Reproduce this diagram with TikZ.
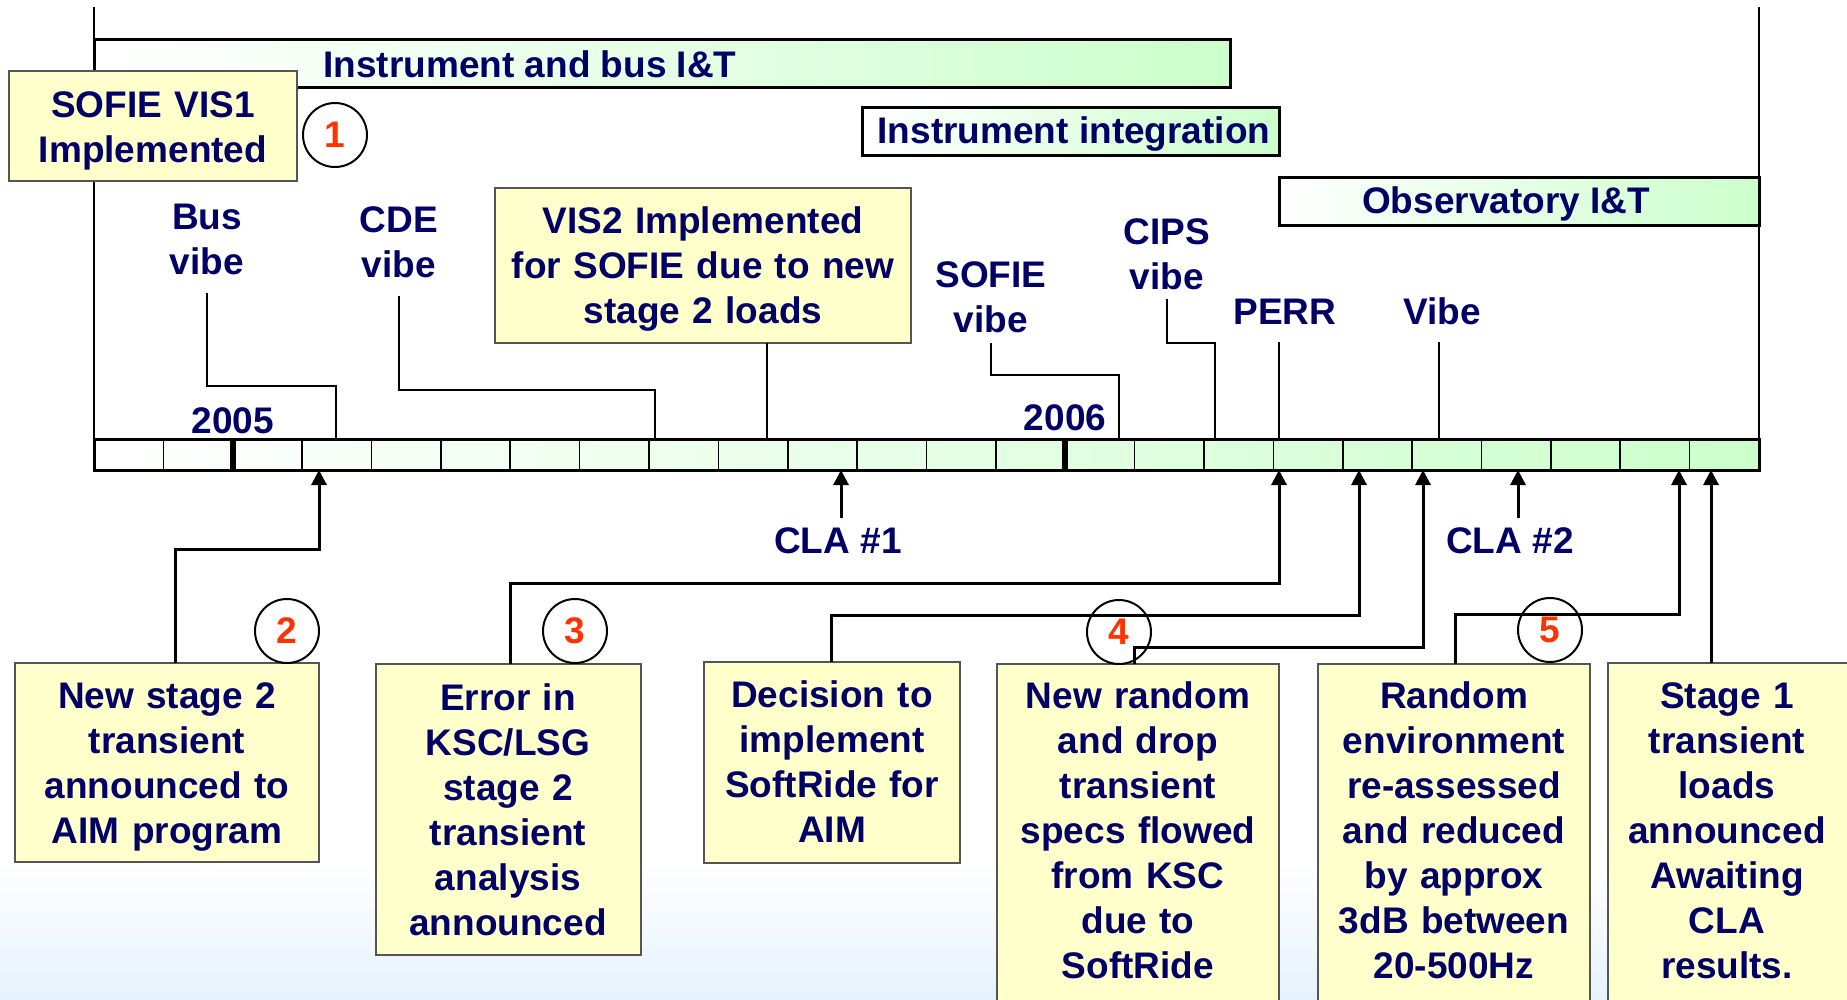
\documentclass[tikz,border=0pt]{standalone}
\usepackage{fontspec}
\setmainfont{Liberation Sans}
\usetikzlibrary{arrows.meta}
\definecolor{navy}{RGB}{0,0,102}
\definecolor{lyellow}{RGB}{255,255,204}
\definecolor{lgreen}{RGB}{204,255,204}
\definecolor{numred}{RGB}{255,51,0}
\definecolor{boxgray}{RGB}{85,85,85}
\definecolor{lblue}{RGB}{230,242,252}
\tikzset{
  txt/.style={font=\fontsize{37}{45}\selectfont\bfseries, text=navy, inner sep=0pt, align=center},
  mtxt/.style={txt, text width=#1, anchor=base},
  period/.style={draw=black, line width=3pt, left color=white, right color=lgreen, anchor=north west, inner sep=0pt, outer sep=0pt},
  ybox/.style={draw=boxgray, line width=2pt, fill=lyellow, anchor=north west, inner sep=0pt, outer sep=0pt},
  numc/.style={circle, draw=black, line width=2pt, minimum size=64pt, inner sep=0pt, font=\fontsize{37}{45}\selectfont\bfseries, text=numred},
  conn/.style={line width=2pt},
  arr/.style={line width=3pt, -{Triangle[length=15pt,width=15pt]}}
}
\begin{document}
\begin{tikzpicture}[x=1pt,y=-1pt]
\useasboundingbox (0,0) rectangle (1847,999);
% background gradient at the bottom
\fill[top color=white, bottom color=lblue] (0,860) rectangle (1847,999);

% timeline bar
\node[period, minimum width=1665pt, minimum height=31pt] (bar) at (94,439) {};
\foreach \k in {1,...,23} {
  \draw[line width=1.7pt] ({94+\k*69.375},439) -- ({94+\k*69.375},470);
}
\draw[line width=6pt] ({94+2*69.375},440) -- ({94+2*69.375},469);
\draw[line width=6pt] ({94+14*69.375},440) -- ({94+14*69.375},469);
\draw[line width=3pt] (94,439) rectangle (1759,470);

% frame lines
\draw[conn] (bar.north west) -- ++(0,-432);
\draw[conn] (bar.north east) -- ++(0,-432);

% period bars
\node[period, minimum width=1136pt, minimum height=48pt] (ibit) at (94,39) {};
\node[txt, anchor=base] (tibit) at (530,77) {Instrument and bus I\&T};
\node[period, minimum width=417pt, minimum height=48pt] (ii) at (862,107) {};
\node[txt, anchor=base] (tii) at (1074,143) {Instrument integration};
\node[period, minimum width=480pt, minimum height=48pt] (oit) at (1279,177) {};
\node[txt, anchor=base] (toit) at (1506,213) {Observatory I\&T};

% top boxes
\node[ybox, minimum width=288pt, minimum height=110pt] (vis1) at (9,71) {};
\node[mtxt=280pt] (tvis1) at (153,117) {SOFIE VIS1\\Implemented};
\node[numc] (n1) at (335,135) {1};

\node[ybox, minimum width=416pt, minimum height=155pt] (vis2) at (495,188) {};
\node[mtxt=410pt] (tvis2) at (703,233) {VIS2 Implemented\\for SOFIE due to new\\stage 2 loads};

% event labels above the bar
\node[mtxt=120pt] (busv) at (207,229) {Bus\\vibe};
\node[mtxt=120pt] (cdev) at (399,232) {CDE\\vibe};
\node[mtxt=130pt] (sofv) at (991,287) {SOFIE\\vibe};
\node[mtxt=120pt] (cipsv) at (1167,244) {CIPS\\vibe};
\node[txt, anchor=base] (perr) at (1285,324) {PERR};
\node[txt, anchor=base] (vibe) at (1442,324) {Vibe};
\node[txt, anchor=base] (y2005) at (233,433) {2005};
\node[txt, anchor=base] (y2006) at (1065,430) {2006};

\coordinate (jBus) at (336,386);
\coordinate (jCDE) at (655,390);
\coordinate (jV) at (767,400);
\coordinate (jSO) at (1119,375);
\coordinate (jCI) at (1215,343);
\coordinate (jP) at (1279,342);
\coordinate (jVi) at (1439,342);
\draw[conn] ([yshift=-18pt]busv.south) |- (jBus) -- (jBus |- bar.north);
\draw[conn] ([yshift=-18pt]cdev.south) |- (jCDE) -- (jCDE |- bar.north);
\draw[conn] (vis2.south -| jV) -- (jV |- bar.north);
\draw[conn] ([yshift=-10pt]sofv.south) |- (jSO) -- (jSO |- bar.north);
\draw[conn] ([yshift=-9pt]cipsv.south) |- (jCI) -- (jCI |- bar.north);
\draw[conn] (jP) -- (jP |- bar.north);
\draw[conn] (jVi) -- (jVi |- bar.north);

% CLA labels
\node[txt, anchor=base] (cla1) at (838,553) {CLA \#1};
\node[txt, anchor=base] (cla2) at (1510,553) {CLA \#2};
\coordinate (jC1) at (841,518);
\coordinate (jC2) at (1518,518);
\draw[arr] (jC1) -- (jC1 |- bar.south);
\draw[arr] (jC2) -- (jC2 |- bar.south);

% bottom boxes
\node[ybox, minimum width=304pt, minimum height=199pt] (bA) at (15,663) {};
\node[mtxt=300pt] (tA) at (167,708) {New stage 2\\transient\\announced to\\AIM program};
\node[ybox, minimum width=265pt, minimum height=291pt] (bB) at (376,664) {};
\node[mtxt=260pt] (tB) at (508,710) {Error in\\KSC/LSG\\stage 2\\transient\\analysis\\announced};
\node[ybox, minimum width=256pt, minimum height=201pt] (bC) at (704,662) {};
\node[mtxt=250pt] (tC) at (832,707) {Decision to\\implement\\SoftRide for\\AIM};
\node[ybox, minimum width=282pt, minimum height=346pt] (bD) at (997,664) {};
\node[mtxt=278pt] (tD) at (1138,708) {New random\\and drop\\transient\\specs flowed\\from KSC\\due to\\SoftRide};
\node[ybox, minimum width=272pt, minimum height=346pt] (bE) at (1318,664) {};
\node[mtxt=268pt] (tE) at (1454,708) {Random\\environment\\re-assessed\\and reduced\\by approx\\3dB between\\20-500Hz};
\node[ybox, minimum width=262pt, minimum height=347pt] (bF) at (1608,663) {};
\node[mtxt=238pt] (tF) at (1727,708) {Stage 1\\transient\\loads\\announced\\Awaiting\\CLA\\results.};

% numbered circles
\node[numc] (n2) at (287,631) {2};
\node[numc] (n3) at (575,631) {3};
\node[numc] (n4) at (1119,632) {4};
\node[numc] (n5) at (1550,630) {5};

% connectors from the boxes to the bar
\coordinate (jA) at (175,549);  \coordinate (kA) at (319,549);
\coordinate (jB) at (510,583);  \coordinate (kB) at (1279,583);
\coordinate (jC) at (831,615);  \coordinate (kC) at (1359,615);
\coordinate (jD) at (1134,647); \coordinate (kD) at (1423,647);
\coordinate (jE) at (1455,614); \coordinate (kE) at (1679,614);
\coordinate (jF) at (1711,600);
\draw[arr] (bA.north -| jA) -- (jA) -- (kA) -- (kA |- bar.south);
\draw[arr] (bB.north -| jB) -- (jB) -- (kB) -- (kB |- bar.south);
\draw[arr] (bC.north -| jC) -- (jC) -- (kC) -- (kC |- bar.south);
\draw[arr] (bD.north -| jD) -- (jD) -- (kD) -- (kD |- bar.south);
\draw[arr] (bE.north -| jE) -- (jE) -- (kE) -- (kE |- bar.south);
\draw[arr] (bF.north -| jF) -- (jF |- bar.south);
\end{tikzpicture}
\end{document}
